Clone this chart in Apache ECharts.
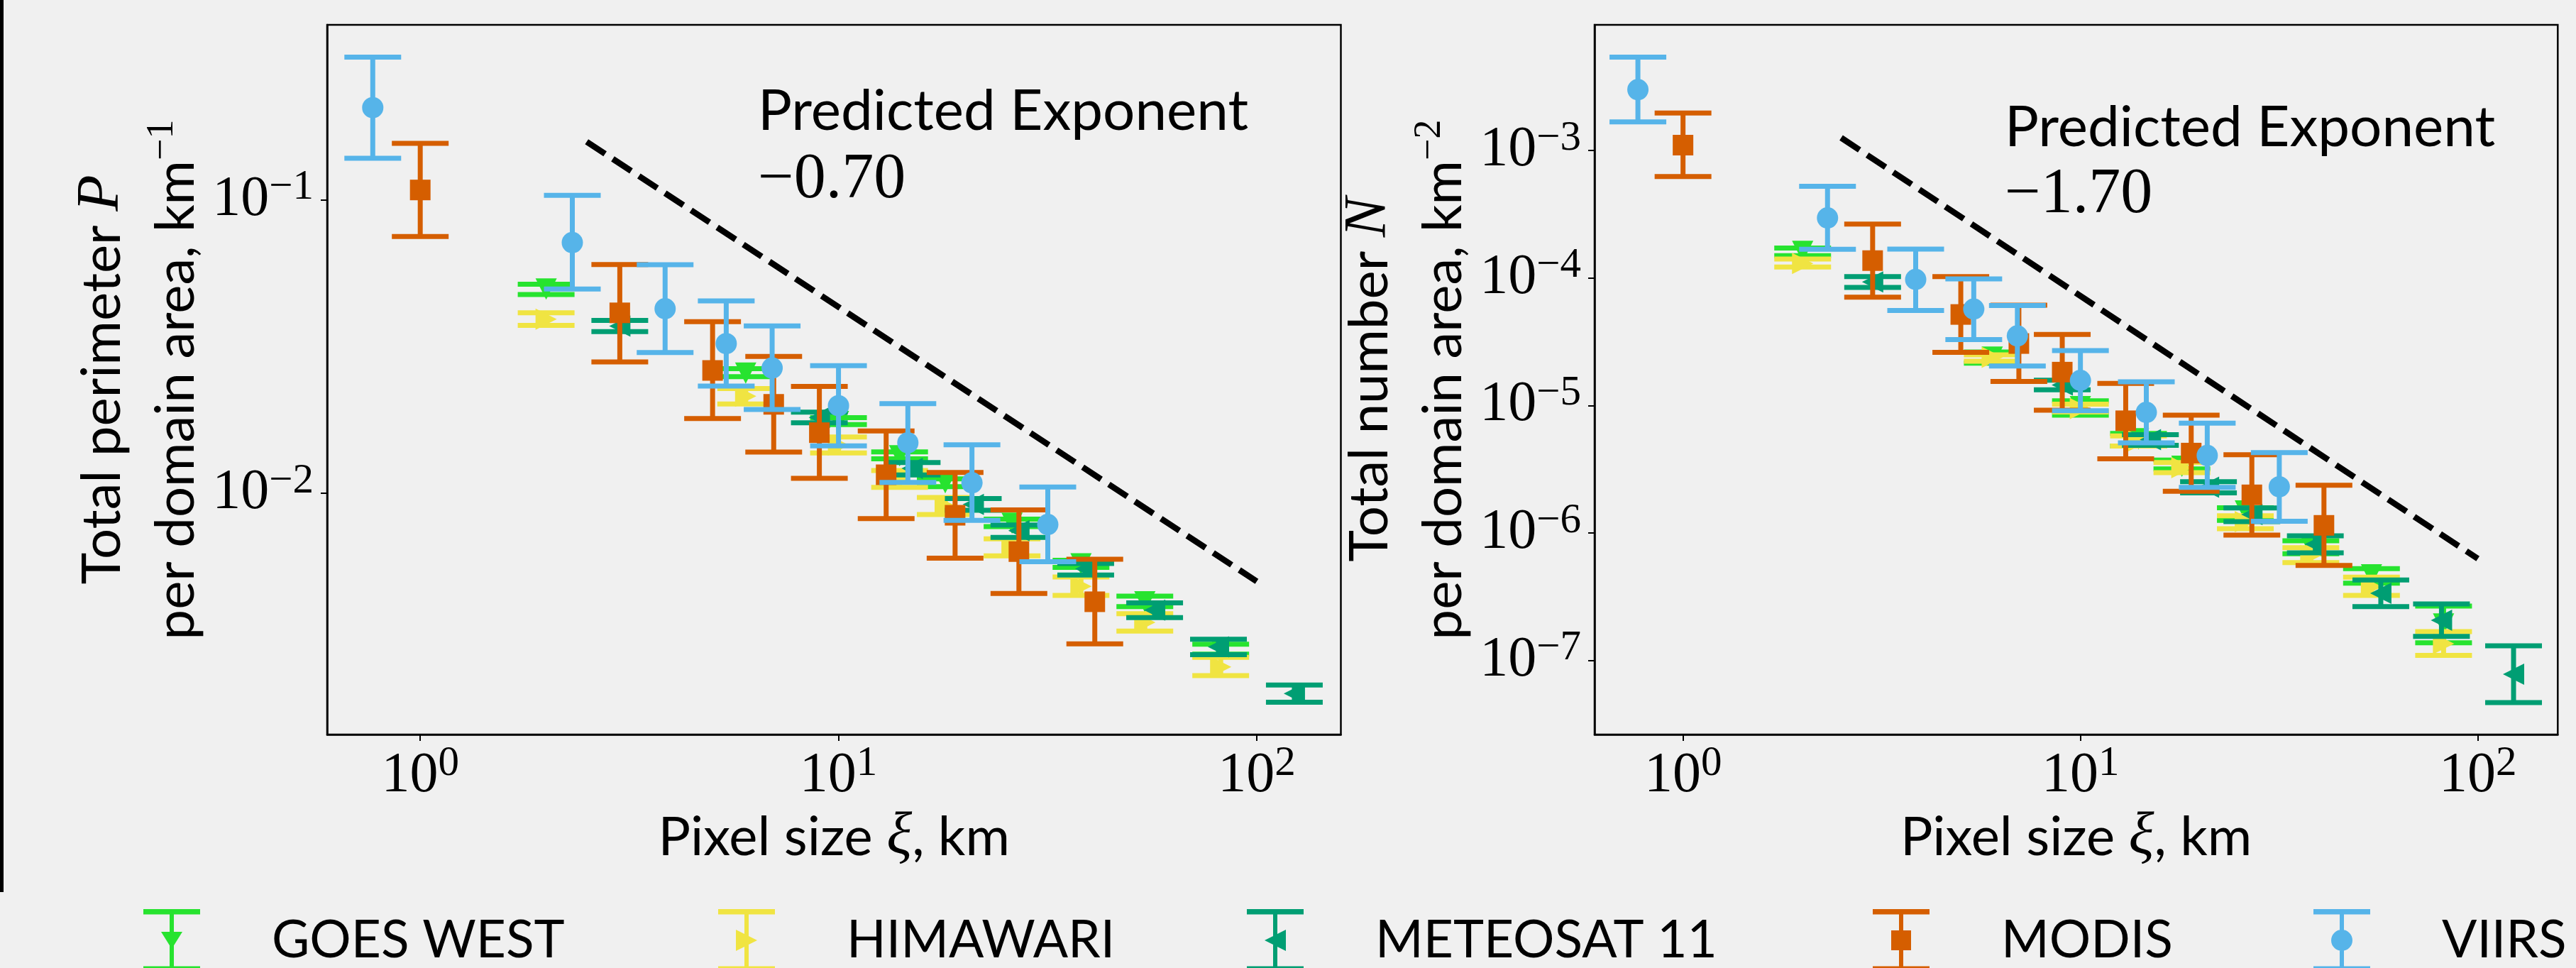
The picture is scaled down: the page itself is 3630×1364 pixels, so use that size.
<!DOCTYPE html>
<html>
<head>
<meta charset="utf-8">
<script src="https://cdn.jsdelivr.net/npm/echarts@6/dist/echarts.min.js"></script>
<style>
  html, body { margin: 0; padding: 0; background: #f0f0f0; }
  #chart { width: 3630px; height: 1364px; }
</style>
</head>
<body>
<div id="chart"></div>
<script>
// pixel sizes (km) per instrument
const goesX = [2, 6, 10, 14, 18, 26, 38, 54, 82];
const himaX = [2, 6, 10, 14, 18, 26, 38, 54, 82];
const meteoX = [3, 9, 15, 21, 27, 39, 57, 81, 123];
const modisX = [1, 3, 5, 7, 9, 13, 19, 27, 41];
const viirsX = [0.77, 2.31, 3.85, 5.39, 6.94, 10.0, 14.65, 20.85, 31.65];

// left panel: total perimeter per domain area (km^-1), value / low / high
const goesP = [0.0497, 0.0257, 0.01757, 0.01343, 0.01086, 0.00791, 0.00575, 0.00427, 0.00295];
const goesPLo = [0.0476, 0.0250, 0.01715, 0.01311, 0.01054, 0.0077, 0.00559, 0.00411, 0.00283];
const goesPHi = [0.0516, 0.0266, 0.01811, 0.01384, 0.01121, 0.00817, 0.00591, 0.00446, 0.00306];

const himaP = [0.03925, 0.02144, 0.0146, 0.01118, 0.00906, 0.00655, 0.00482, 0.00363, 0.00256];
const himaPLo = [0.03735, 0.02016, 0.01373, 0.01048, 0.00847, 0.00612, 0.00449, 0.00339, 0.00239];
const himaPHi = [0.04123, 0.02275, 0.01556, 0.01197, 0.00968, 0.0070, 0.00519, 0.00389, 0.00276];

const meteoP = [0.03715, 0.01815, 0.01216, 0.00917, 0.00746, 0.00553, 0.0040, 0.002995, 0.002077];
const meteoPLo = [0.0356, 0.0174, 0.01156, 0.00876, 0.00708, 0.00527, 0.00377, 0.00282, 0.00194];
const meteoPHi = [0.03886, 0.01891, 0.01274, 0.0096, 0.0078, 0.00577, 0.00423, 0.00318, 0.00222];

const modisP = [0.1082, 0.04124, 0.02624, 0.02011, 0.0161, 0.01157, 0.00842, 0.00633, 0.00427];
const modisPLo = [0.0751, 0.02804, 0.01798, 0.01382, 0.01125, 0.0082, 0.00601, 0.00456, 0.00307];
const modisPHi = [0.156, 0.0603, 0.03846, 0.02931, 0.02314, 0.01632, 0.01178, 0.00878, 0.00596];

const viirsP = [0.2065, 0.0716, 0.0426, 0.0324, 0.02675, 0.01989, 0.01487, 0.01086, 0.00783];
const viirsPLo = [0.1387, 0.0497, 0.0302, 0.0232, 0.01932, 0.01452, 0.0109, 0.00809, 0.00585];
const viirsPHi = [0.307, 0.1038, 0.0602, 0.0453, 0.0372, 0.02723, 0.02023, 0.01463, 0.01051];

// right panel: total number per domain area (km^-2), value / low / high
const goesN = [1.62e-4, 2.4e-5, 9.8e-6, 5.5e-6, 3.34e-6, 1.49e-6, 7.9e-7, 4.7e-7, 1.94e-7];
const goesNLo = [1.50e-4, 2.15e-5, 8.4e-6, 4.81e-6, 3.19e-6, 1.26e-6, 6.9e-7, 4.05e-7, 1.38e-7];
const goesNHi = [1.72e-4, 2.63e-5, 1.09e-5, 6.05e-6, 3.74e-6, 1.58e-6, 8.7e-7, 5.26e-7, 2.68e-7];

const himaN = [1.30e-4, 2.39e-5, 9.47e-6, 5.28e-6, 3.26e-6, 1.23e-6, 6.68e-7, 3.8e-7, 1.36e-7];
const himaNLo = [1.22e-4, 2.23e-5, 8.92e-6, 4.81e-6, 2.975e-6, 1.083e-6, 5.87e-7, 3.25e-7, 1.10e-7];
const himaNHi = [1.41e-4, 2.5e-5, 1.025e-5, 5.78e-6, 3.57e-6, 1.369e-6, 7.69e-7, 4.51e-7, 1.69e-7];

const meteoN = [9.32e-5, 1.448e-5, 5.4e-6, 2.29e-6, 1.4e-6, 8.2e-7, 3.37e-7, 2.07e-7, 7.83e-8];
const meteoNLo = [8.45e-5, 1.33e-5, 4.88e-6, 2.07e-6, 1.231e-6, 7.0e-7, 2.65e-7, 1.55e-7, 4.69e-8];
const meteoNHi = [1.027e-4, 1.582e-5, 5.91e-6, 2.53e-6, 1.576e-6, 9.53e-7, 4.29e-7, 2.78e-7, 1.307e-7];

const modisN = [1.102e-3, 1.37e-4, 5.18e-5, 3.065e-5, 1.829e-5, 7.6e-6, 4.24e-6, 1.995e-6, 1.15e-6];
const modisNLo = [6.26e-4, 7.08e-5, 2.617e-5, 1.544e-5, 9.2e-6, 3.83e-6, 2.13e-6, 9.65e-7, 5.58e-7];
const modisNHi = [1.965e-3, 2.648e-4, 1.026e-4, 6.12e-5, 3.615e-5, 1.49e-5, 8.41e-6, 4.12e-6, 2.37e-6];

const viirsN = [3.0e-3, 2.96e-4, 9.75e-5, 5.71e-5, 3.52e-5, 1.576e-5, 8.84e-6, 4.06e-6, 2.306e-6];
const viirsNLo = [1.674e-3, 1.68e-4, 5.57e-5, 3.29e-5, 2.04e-5, 9.11e-6, 5.11e-6, 2.28e-6, 1.24e-6];
const viirsNHi = [5.4e-3, 5.24e-4, 1.689e-4, 9.86e-5, 6.09e-5, 2.7e-5, 1.538e-5, 7.27e-6, 4.28e-6];

// predicted-exponent guide lines
const guideX = [2.5, 100];
const guideP = [0.158, 0.00501];
const guideN = [1.258e-3, 6.3e-7];

const xTicks = [1, 10, 100];
const yTicksP = [0.01, 0.1];
const yTicksN = [1e-7, 1e-6, 1e-5, 1e-4, 1e-3];

const names = ['GOES WEST', 'HIMAWARI', 'METEOSAT 11', 'MODIS', 'VIIRS'];
const colors = ['#27e32f', '#f0e442', '#009e73', '#d55e00', '#56b4e9'];
const shapes = ['down', 'right', 'left', 'square', 'circle'];

const chart = echarts.init(document.getElementById('chart'));

const serif = 'Liberation Serif';
const sans = 'Lato';

function zip(x, y, lo, hi) {
  return x.map((v, i) => [v, y[i], lo[i], hi[i]]);
}

function errItem(shape, color) {
  return function (params, api) {
    const x = api.value(0);
    const p = api.coord([x, api.value(1)]);
    const lo = api.coord([x, api.value(2)]);
    const hi = api.coord([x, api.value(3)]);
    const cx = p[0], cy = p[1], h = 15, cap = 40;
    const st = { stroke: color, lineWidth: 7 };
    const kids = [
      { type: 'line', shape: { x1: cx, y1: lo[1], x2: cx, y2: hi[1] }, style: st },
      { type: 'line', shape: { x1: cx - cap, y1: hi[1], x2: cx + cap, y2: hi[1] }, style: st },
      { type: 'line', shape: { x1: cx - cap, y1: lo[1], x2: cx + cap, y2: lo[1] }, style: st }
    ];
    if (shape === 'circle') {
      kids.push({ type: 'circle', shape: { cx: cx, cy: cy, r: 15 }, style: { fill: color } });
    } else if (shape === 'square') {
      kids.push({ type: 'rect', shape: { x: cx - 14.5, y: cy - 14.5, width: 29, height: 29 }, style: { fill: color } });
    } else {
      let pts;
      if (shape === 'down') pts = [[cx - h, cy - h], [cx + h, cy - h], [cx, cy + h]];
      else if (shape === 'right') pts = [[cx - h, cy - h], [cx + h, cy], [cx - h, cy + h]];
      else pts = [[cx + h, cy - h], [cx - h, cy], [cx + h, cy + h]];
      kids.push({ type: 'polygon', shape: { points: pts }, style: { fill: color } });
    }
    return { type: 'group', children: kids };
  };
}

function powLabel(v) {
  const e = Math.round(Math.log10(v));
  return '{b|10}{s|' + (e < 0 ? '\u2212' + (-e) : e) + '}';
}
const tickRich = {
  b: { fontFamily: serif, fontSize: 80, color: '#000' },
  s: { fontFamily: serif, fontSize: 59, color: '#000', padding: [0, 0, 34, 0] }
};
const nameRich = {
  a: { fontFamily: sans, fontSize: 76, color: '#000', lineHeight: 104 },
  m: { fontFamily: serif, fontStyle: 'italic', fontSize: 84, color: '#000', lineHeight: 104 },
  s: { fontFamily: serif, fontSize: 54, color: '#000', lineHeight: 60, padding: [0, 0, 40, 0] }
};

function xAxis(gi) {
  return {
    type: 'log', logBase: 10, gridIndex: gi, min: 0.599, max: 158.9,
    axisLine: { show: true, lineStyle: { color: '#000', width: 2.5 } },
    axisTick: { show: true, length: 9, lineStyle: { color: '#000', width: 2 }, customValues: xTicks },
    axisLabel: { customValues: xTicks, formatter: powLabel, margin: 12, rich: tickRich },
    splitLine: { show: false },
    name: '{a|Pixel size }{m|\u03BE}{a|, km}',
    nameLocation: 'middle', nameGap: 76,
    nameTextStyle: { rich: nameRich }
  };
}
function yAxis(gi, min, max, ticks, name) {
  return {
    type: 'log', logBase: 10, gridIndex: gi, min: min, max: max,
    axisLine: { show: true, lineStyle: { color: '#000', width: 2.5 } },
    axisTick: { show: true, length: 9, lineStyle: { color: '#000', width: 2 }, customValues: ticks },
    axisLabel: { customValues: ticks, formatter: powLabel, margin: 19, rich: tickRich },
    splitLine: { show: false },
    name: name, nameLocation: 'middle', nameRotate: 90, nameGap: 119,
    nameTextStyle: { rich: nameRich }
  };
}

const leftSets = [
  zip(goesX, goesP, goesPLo, goesPHi),
  zip(himaX, himaP, himaPLo, himaPHi),
  zip(meteoX, meteoP, meteoPLo, meteoPHi),
  zip(modisX, modisP, modisPLo, modisPHi),
  zip(viirsX, viirsP, viirsPLo, viirsPHi)
];
const rightSets = [
  zip(goesX, goesN, goesNLo, goesNHi),
  zip(himaX, himaN, himaNLo, himaNHi),
  zip(meteoX, meteoN, meteoNLo, meteoNHi),
  zip(modisX, modisN, modisNLo, modisNHi),
  zip(viirsX, viirsN, viirsNLo, viirsNHi)
];

const series = [];
[guideP, guideN].forEach((g, gi) => {
  series.push({
    type: 'line', xAxisIndex: gi, yAxisIndex: gi, symbol: 'none', silent: true,
    data: guideX.map((x, i) => [x, g[i]]),
    lineStyle: { color: '#000', width: 8.5, type: [31, 13] }
  });
});
[leftSets, rightSets].forEach((sets, gi) => {
  sets.forEach((d, k) => {
    series.push({
      type: 'custom', name: names[k], xAxisIndex: gi, yAxisIndex: gi,
      dimensions: ['x', 'y', 'lo', 'hi'], encode: { x: 0, y: 1 },
      itemStyle: { color: colors[k] },
      renderItem: errItem(shapes[k], colors[k]),
      data: d
    });
  });
});

// legend icons: error bar with the series marker, in an 80 x 88 box
const capPath = 'M0 0H80V7.5H0Z M37 7.5H43V80.5H37Z M0 80.5H80V88H0Z ';
const markPaths = {
  down: 'M25 32L55 32L40 56Z',
  right: 'M25 29L55 44L25 59Z',
  left: 'M55 29L55 59L25 44Z',
  square: 'M26 30H54V58H26Z',
  circle: 'M25 44A15 15 0 1 1 55 44A15 15 0 1 1 25 44Z'
};
const legendLeft = [197, 1007, 1752, 2634, 3255];
const legends = names.map((n, k) => ({
  left: legendLeft[k], top: 1276, orient: 'horizontal',
  itemWidth: 80, itemHeight: 88, selectedMode: false,
  data: [{ name: n, icon: 'path://' + capPath + markPaths[shapes[k]], itemStyle: { color: colors[k] } }],
  textStyle: { fontFamily: sans, fontSize: 73, color: '#000', padding: [0, 0, 0, 96] }
}));

chart.setOption({
  animation: false,
  backgroundColor: '#f0f0f0',
  grid: [
    { left: 461, top: 35, width: 1428.5, height: 1000, show: true, borderColor: '#000', borderWidth: 2.5, backgroundColor: '#f0f0f0', containLabel: false, outerBoundsMode: 'none' },
    { left: 2247, top: 35, width: 1357.3, height: 1000, show: true, borderColor: '#000', borderWidth: 2.5, backgroundColor: '#f0f0f0', containLabel: false, outerBoundsMode: 'none' }
  ],
  xAxis: [xAxis(0), xAxis(1)],
  yAxis: [
    yAxis(0, 0.001506, 0.3955, yTicksP, '{a|Total perimeter }{m|P}\n{a|per domain area, km}{s|\u22121}'),
    yAxis(1, 2.634e-8, 9.67e-3, yTicksN, '{a|Total number }{m|N}\n{a|per domain area, km}{s|\u22122}')
  ],
  legend: legends,
  graphic: [
    { type: 'rect', left: 0, top: 0, shape: { width: 5, height: 1257 }, style: { fill: '#000' } },
    { type: 'text', left: 1068, top: 117, style: { text: 'Predicted Exponent', font: '80px Lato', fill: '#000' } },
    { type: 'text', left: 1068, top: 209, style: { text: '\u22120.70', font: '90px "Liberation Serif"', fill: '#000' } },
    { type: 'text', left: 2825, top: 140, style: { text: 'Predicted Exponent', font: '80px Lato', fill: '#000' } },
    { type: 'text', left: 2825, top: 230, style: { text: '\u22121.70', font: '90px "Liberation Serif"', fill: '#000' } }
  ],
  series: series
});
</script>
</body>
</html>
